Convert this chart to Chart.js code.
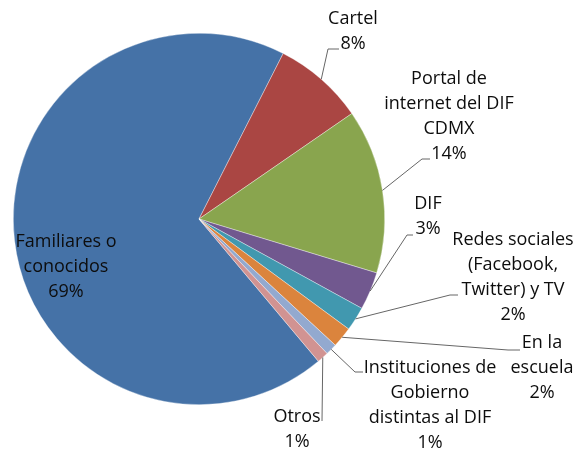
<!DOCTYPE html>
<html>
<head>
<meta charset="utf-8">
<script src="https://cdn.jsdelivr.net/npm/chart.js@4"></script>
<style>
  html, body { margin: 0; padding: 0; background: #fff; }
  #wrap { width: 573px; height: 449px; }
</style>
</head>
<body>
<div id="wrap"><canvas id="pieChart" width="573" height="449"></canvas></div>
<script>
// datos
var categorias = ['Familiares o conocidos', 'Cartel', 'Portal de internet del DIF CDMX', 'DIF',
    'Redes sociales (Facebook, Twitter) y TV', 'En la escuela', 'Instituciones de Gobierno distintas al DIF', 'Otros'];
var valores = [68.6, 7.9, 14.3, 3.3, 2.1, 1.8, 1.0, 1.0];
var etiquetas = [
    ['Familiares o', 'conocidos', '69%'],
    ['Cartel', '8%'],
    ['Portal de', 'internet del DIF', 'CDMX', '14%'],
    ['DIF', '3%'],
    ['Redes sociales', '(Facebook,', 'Twitter) y TV', '2%'],
    ['En la', 'escuela', '2%'],
    ['Instituciones de', 'Gobierno', 'distintas al DIF', '1%'],
    ['Otros', '1%']
];
var colores = ['#4572A7', '#AA4643', '#89A54E', '#71588F', '#4198AF', '#DB843D', '#93A9CF', '#D19392'];

// posicion de las etiquetas: centro x, y de la primera linea, codo y fin de la linea guia
var posEtiquetas = [
    { x: 66, y: 242, codo: null },
    { x: 353, y: 19, codo: [328, 49], fin: [339, 49] },
    { x: 449, y: 79, codo: [422, 159], fin: [430, 159] },
    { x: 428, y: 204, codo: [407, 235], fin: [413, 235] },
    { x: 513, y: 240, codo: [450, 295], fin: [458, 295] },
    { x: 542, y: 343, codo: [508, 350], fin: [520, 350] },
    { x: 430, y: 368, codo: [355, 372], fin: [363, 372] },
    { x: 297, y: 417, codo: [322, 421], fin: [322, 421] }
];

var etiquetasPlugin = {
    id: 'etiquetas',
    afterDatasetsDraw: function (chart) {
        var ctx = chart.ctx;
        var arcos = chart.getDatasetMeta(0).data;
        ctx.save();
        // lineas guia
        ctx.strokeStyle = '#666666';
        ctx.lineWidth = 1;
        arcos.forEach(function (arc, i) {
            var p = posEtiquetas[i];
            if (!p.codo) return;
            var mid = (arc.startAngle + arc.endAngle) / 2;
            var x0 = arc.x + Math.cos(mid) * arc.outerRadius;
            var y0 = arc.y + Math.sin(mid) * arc.outerRadius;
            ctx.beginPath();
            ctx.moveTo(x0, y0);
            ctx.lineTo(p.codo[0], p.codo[1]);
            ctx.lineTo(p.fin[0], p.fin[1]);
            ctx.stroke();
        });
        // textos
        ctx.fillStyle = '#0d0d0d';
        ctx.font = '18px "Open Sans"';
        ctx.textAlign = 'center';
        ctx.textBaseline = 'middle';
        etiquetas.forEach(function (lineas, i) {
            var p = posEtiquetas[i];
            lineas.forEach(function (t, j) {
                ctx.fillText(t, p.x, p.y + j * 25);
            });
        });
        ctx.restore();
    }
};

var ctxPie = document.getElementById('pieChart').getContext('2d');
var pieChart = new Chart(ctxPie, {
    type: 'pie',
    data: {
        labels: categorias,
        datasets: [{
            data: valores,
            backgroundColor: colores,
            borderColor: 'rgba(255,255,255,0.6)',
            borderWidth: 0.6
        }]
    },
    options: {
        responsive: false,
        animation: false,
        rotation: 140,
        layout: { padding: { left: 13, right: 188, top: 33, bottom: 44 } },
        plugins: {
            legend: { display: false },
            tooltip: { enabled: false }
        }
    },
    plugins: [etiquetasPlugin]
});
</script>
</body>
</html>
